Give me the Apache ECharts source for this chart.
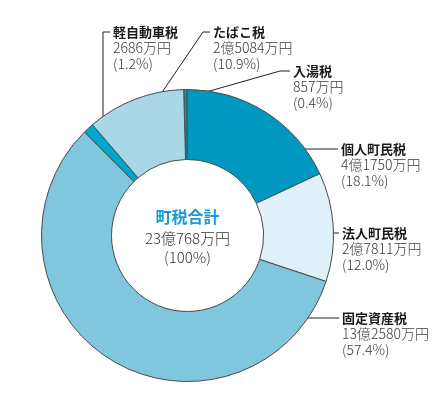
<!DOCTYPE html>
<html><head><meta charset="utf-8">
<script src="https://cdn.jsdelivr.net/npm/echarts@6/dist/echarts.min.js"></script>
<style>html,body{margin:0;padding:0;background:#fff}#c{width:444px;height:398px}</style>
</head><body><div id="c"></div>
<script>
// data
const names = ['入湯税', '個人町民税', '法人町民税', '固定資産税', '軽自動車税', 'たばこ税'];
const values = [857, 41750, 27811, 132580, 2686, 25084]; // 万円
const pcts = ['0.4', '18.1', '12.0', '57.4', '1.2', '10.9'];
const totalLabel = '町税合計';
const totalValue = 230768;
const totalPct = '100';

// styles / layout (not data)
const colors = ['#0a93bb', '#0098c1', '#e1f1f9', '#80c6dc', '#00a7cc', '#a9d7e8'];
const labelPos = [
  {x: 293, y: 71, line: [[185, 98], [280, 71], [290, 71]]},
  {x: 341, y: 149, line: [[283, 149], [310, 149], [338, 149]]},
  {x: 342, y: 233, line: [[319, 233], [329, 233], [339, 233]]},
  {x: 342, y: 318, line: [[300, 318], [320, 318], [339, 318]]},
  {x: 113, y: 32, line: [[103, 117], [103, 32], [110, 32]]},
  {x: 213, y: 32, line: [[150, 110], [203, 32], [210, 32]]}
];
const LH = 16;
const FONT = '"Noto Sans CJK JP", "Noto Sans", sans-serif';

function fmtYen(v) {
  const oku = Math.floor(v / 10000), man = v % 10000;
  return (oku ? oku + '億' : '') + (man ? man : '') + '万円';
}

const chart = echarts.init(document.getElementById('c'));
chart.setOption({
  animation: false,
  backgroundColor: '#fff',
  series: [{
    type: 'pie',
    center: [187.5, 235.5],
    radius: [76, 146],
    startAngle: 91.5,
    clockwise: true,
    avoidLabelOverlap: false,
    data: names.map((n, i) => ({name: n, value: values[i], itemStyle: {color: colors[i]}})),
    itemStyle: {borderColor: '#4a4a4a', borderWidth: 1},
    emphasis: {disabled: true},
    label: {
      show: true,
      position: 'outside',
      fontFamily: FONT,
      formatter: p => '{t|' + names[p.dataIndex] + '}\n{v|' + fmtYen(values[p.dataIndex]) + '}\n{v|(' + pcts[p.dataIndex] + '%)}',
      rich: {
        t: {fontFamily: FONT, fontSize: 13, fontWeight: 'bold', color: '#1a1a1a', lineHeight: LH},
        v: {fontFamily: FONT, fontSize: 14, fontWeight: 300, color: '#3a3a3a', lineHeight: LH}
      }
    },
    labelLine: {show: true, lineStyle: {color: '#222', width: 1}},
    labelLayout: function (params) {
      const lp = labelPos[params.dataIndex];
      return {
        x: lp.x, y: lp.y - LH / 2,
        align: 'left', verticalAlign: 'top',
        labelLinePoints: lp.line
      };
    }
  }],
  graphic: [{
    type: 'text',
    left: 187.5 - 60, top: 209,
    style: {
      text: '{a|' + totalLabel + '}\n{b|' + fmtYen(totalValue) + '}\n{b|(' + totalPct + '%)}',
      width: 120,
      align: 'center',
      rich: {
        a: {fontFamily: FONT, fontSize: 16, fontWeight: 'bold', fill: '#1a9ad0', lineHeight: 23, width: 120, align: 'center'},
        b: {fontFamily: FONT, fontSize: 15, fontWeight: 300, fill: '#333', lineHeight: 19, width: 120, align: 'center'}
      }
    }
  }]
});
</script>
</body></html>
